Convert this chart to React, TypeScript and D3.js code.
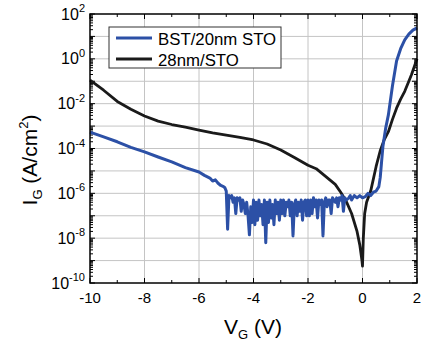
import React from "react";
import * as d3 from "d3";

// blue: BST/20nm STO, black: 28nm/STO. values are log10(I_G)
const blueV = [-10, -9.5, -9, -8.5, -8, -7.5, -7, -6.5, -6, -5.8, -5.6, -5.5, -5.4, -5.3, -5.2, -5.1, -5.05, -5.0, -4.95, -4.9, -4.85, -4.8, -4.75, -4.7, -4.65, -4.6, -4.55, -4.5, -4.45, -4.4, -4.35, -4.3, -4.25, -4.2, -4.15, -4.1, -4.05, -4.0, -3.95, -3.9, -3.85, -3.8, -3.75, -3.7, -3.65, -3.6, -3.55, -3.5, -3.45, -3.4, -3.35, -3.3, -3.25, -3.2, -3.15, -3.1, -3.05, -3.0, -2.95, -2.9, -2.85, -2.8, -2.75, -2.7, -2.65, -2.6, -2.55, -2.5, -2.45, -2.4, -2.35, -2.3, -2.25, -2.2, -2.15, -2.1, -2.05, -2.0, -1.95, -1.9, -1.85, -1.8, -1.75, -1.7, -1.65, -1.6, -1.55, -1.5, -1.45, -1.4, -1.35, -1.3, -1.25, -1.2, -1.15, -1.1, -1.0, -0.95, -0.9, -0.85, -0.8, -0.75, -0.7, -0.65, -0.6, -0.5, -0.45, -0.4, -0.3, -0.2, -0.1, 0, 0.1, 0.2, 0.3, 0.4, 0.5, 0.6, 0.65, 0.7, 0.75, 0.85, 0.95, 1.1, 1.25, 1.4, 1.55, 1.7, 1.85, 2.0];
const blueLogI = [-3.27, -3.48, -3.7, -3.95, -4.15, -4.38, -4.6, -4.85, -5.05, -5.2, -5.32, -5.45, -5.4, -5.55, -5.65, -5.7, -5.75, -5.9, -7.6, -6.1, -6.2, -6.1, -6.4, -6.2, -6.9, -6.2, -6.3, -6.2, -6.8, -6.3, -6.5, -6.9, -6.4, -7.0, -7.85, -6.6, -7.3, -6.3, -7.4, -6.4, -7.2, -6.3, -7.0, -6.5, -7.4, -6.3, -8.2, -6.4, -7.3, -6.3, -7.1, -6.5, -7.4, -6.3, -6.9, -6.4, -7.2, -6.3, -6.9, -6.3, -7.0, -6.4, -6.6, -6.3, -7.0, -6.4, -7.9, -6.5, -6.3, -7.0, -6.4, -6.8, -6.3, -7.2, -6.4, -6.3, -7.0, -6.3, -7.0, -6.3, -6.9, -6.2, -6.6, -6.3, -7.1, -6.3, -6.5, -6.3, -7.9, -6.4, -6.2, -6.6, -6.3, -6.3, -6.9, -6.2, -6.4, -6.2, -6.6, -6.2, -6.3, -6.1, -6.8, -6.2, -6.3, -6.2, -6.1, -6.3, -6.1, -6.2, -6.1, -6.2, -6.15, -6.0, -6.1, -5.95, -5.9, -5.7, -5.3, -4.6, -3.9, -3.1, -2.5, -1.2, -0.1, 0.45, 0.85, 1.1, 1.28, 1.38];

const blackV = [-10, -9.5, -9, -8.5, -8, -7.5, -7, -6.5, -6, -5.5, -5, -4.5, -4, -3.5, -3, -2.5, -2, -1.7, -1.5, -1.2, -1, -0.8, -0.6, -0.4, -0.2, -0.1, -0.02, 0.0, 0.03, 0.08, 0.15, 0.3, 0.5, 0.65, 0.8, 0.95, 1.1, 1.25, 1.4, 1.55, 1.7, 1.8, 1.9, 2.0];
const blackLogI = [-0.95, -1.4, -1.9, -2.25, -2.55, -2.78, -2.93, -3.05, -3.18, -3.3, -3.4, -3.5, -3.62, -3.8, -4.07, -4.4, -4.75, -4.9, -5.1, -5.4, -5.6, -5.95, -6.35, -6.9, -7.7, -8.3, -9.0, -9.25, -8.0, -6.9, -6.4, -5.9, -4.8, -4.1, -3.6, -3.25, -2.7, -2.2, -1.8, -1.45, -1.0, -0.7, -0.35, 0.0];

const xTicks = [-10, -8, -6, -4, -2, 0, 2];
const yExponents = [2, 0, -2, -4, -6, -8, -10];
const seriesNames = ["BST/20nm STO", "28nm/STO"];
const seriesColors = ["#2c50a6", "#1a1a1a"];

const W = 432;
const H = 343;
const left = 90, right = 417, top = 14, bottom = 283;

export default function App() {
  const x = d3.scaleLinear().domain([-10, 2]).range([left, right]);
  const y = d3.scaleLog().domain([1e-10, 1e2]).range([bottom, top]);

  const line = d3
    .line<[number, number]>()
    .x((d) => x(d[0]))
    .y((d) => y(Math.pow(10, d[1])));

  const blue = blueV.map((v, i) => [v, blueLogI[i]] as [number, number]);
  const black = blackV.map((v, i) => [v, blackLogI[i]] as [number, number]);

  const decades = d3.range(-10, 3);
  const minor: number[] = [];
  decades.slice(0, -1).forEach((e) => {
    for (let k = 2; k < 10; k++) minor.push(k * Math.pow(10, e));
  });
  const xMinor = d3.range(-9, 2, 2);

  return (
    <svg
      width={W}
      height={H}
      style={{ position: "absolute", left: 0, top: 0, background: "#fff" }}
      fontFamily="Arial, 'Liberation Sans', sans-serif"
    >
      {/* grid */}
      <g stroke="#c4c4c4" strokeWidth={1}>
        {xTicks.slice(1, -1).map((t) => (
          <line key={"gx" + t} x1={x(t)} x2={x(t)} y1={top} y2={bottom} />
        ))}
        {decades.slice(1, -1).map((e) => (
          <line key={"gy" + e} x1={left} x2={right} y1={y(Math.pow(10, e))} y2={y(Math.pow(10, e))} />
        ))}
      </g>

      {/* ticks */}
      <g stroke="#000" strokeWidth={1}>
        {decades.map((e) => (
          <g key={"ty" + e}>
            <line x1={left} x2={left + 5} y1={y(Math.pow(10, e))} y2={y(Math.pow(10, e))} />
            <line x1={right} x2={right - 5} y1={y(Math.pow(10, e))} y2={y(Math.pow(10, e))} />
          </g>
        ))}
        {minor.map((m, i) => (
          <g key={"my" + i}>
            <line x1={left} x2={left + 3} y1={y(m)} y2={y(m)} />
            <line x1={right} x2={right - 3} y1={y(m)} y2={y(m)} />
          </g>
        ))}
        {xTicks.map((t) => (
          <g key={"tx" + t}>
            <line x1={x(t)} x2={x(t)} y1={bottom} y2={bottom - 5} />
            <line x1={x(t)} x2={x(t)} y1={top} y2={top + 5} />
          </g>
        ))}
        {xMinor.map((t) => (
          <g key={"mx" + t}>
            <line x1={x(t)} x2={x(t)} y1={bottom} y2={bottom - 3} />
            <line x1={x(t)} x2={x(t)} y1={top} y2={top + 3} />
          </g>
        ))}
      </g>

      {/* data */}
      <path d={line(black) ?? ""} fill="none" stroke={seriesColors[1]} strokeWidth={2.8} strokeLinejoin="round" />
      <path d={line(blue) ?? ""} fill="none" stroke={seriesColors[0]} strokeWidth={3} strokeLinejoin="round" />

      {/* frame */}
      <rect x={left} y={top} width={right - left} height={bottom - top} fill="none" stroke="#000" strokeWidth={1.5} />

      {/* legend */}
      <g>
        <rect x={109} y={27} width={172} height={41} fill="#fff" stroke="#333" strokeWidth={1} />
        {seriesNames.map((n, i) => (
          <g key={n} transform={`translate(0, ${38 + i * 21})`}>
            <line x1={116} x2={152} y1={0} y2={0} stroke={seriesColors[i]} strokeWidth={3.2} />
            <text x={158} y={6.5} fontSize={16.8} fill="#000">{n}</text>
          </g>
        ))}
      </g>

      {/* y tick labels */}
      {yExponents.map((e) => (
        <text key={"ly" + e} x={85} y={y(Math.pow(10, e)) + 5.5} fontSize={16} textAnchor="end" fill="#000">
          10<tspan dy={-7.5} fontSize={11}>{e}</tspan>
        </text>
      ))}

      {/* x tick labels */}
      {xTicks.map((t) => (
        <text key={"lx" + t} x={x(t)} y={303} fontSize={15} textAnchor="middle" fill="#000">
          {t}
        </text>
      ))}

      {/* axis titles */}
      <text x={253} y={334} fontSize={21} textAnchor="middle" fill="#000">
        V<tspan dy={5} fontSize={13}>G</tspan>
        <tspan dy={-5}> (V)</tspan>
      </text>
      <text transform="translate(37, 160) rotate(-90)" fontSize={21} textAnchor="middle" fill="#000">
        I<tspan dy={5} fontSize={13}>G</tspan>
        <tspan dy={-5}> (A/cm</tspan>
        <tspan dy={-9} fontSize={13}>2</tspan>
        <tspan dy={9}>)</tspan>
      </text>
    </svg>
  );
}
